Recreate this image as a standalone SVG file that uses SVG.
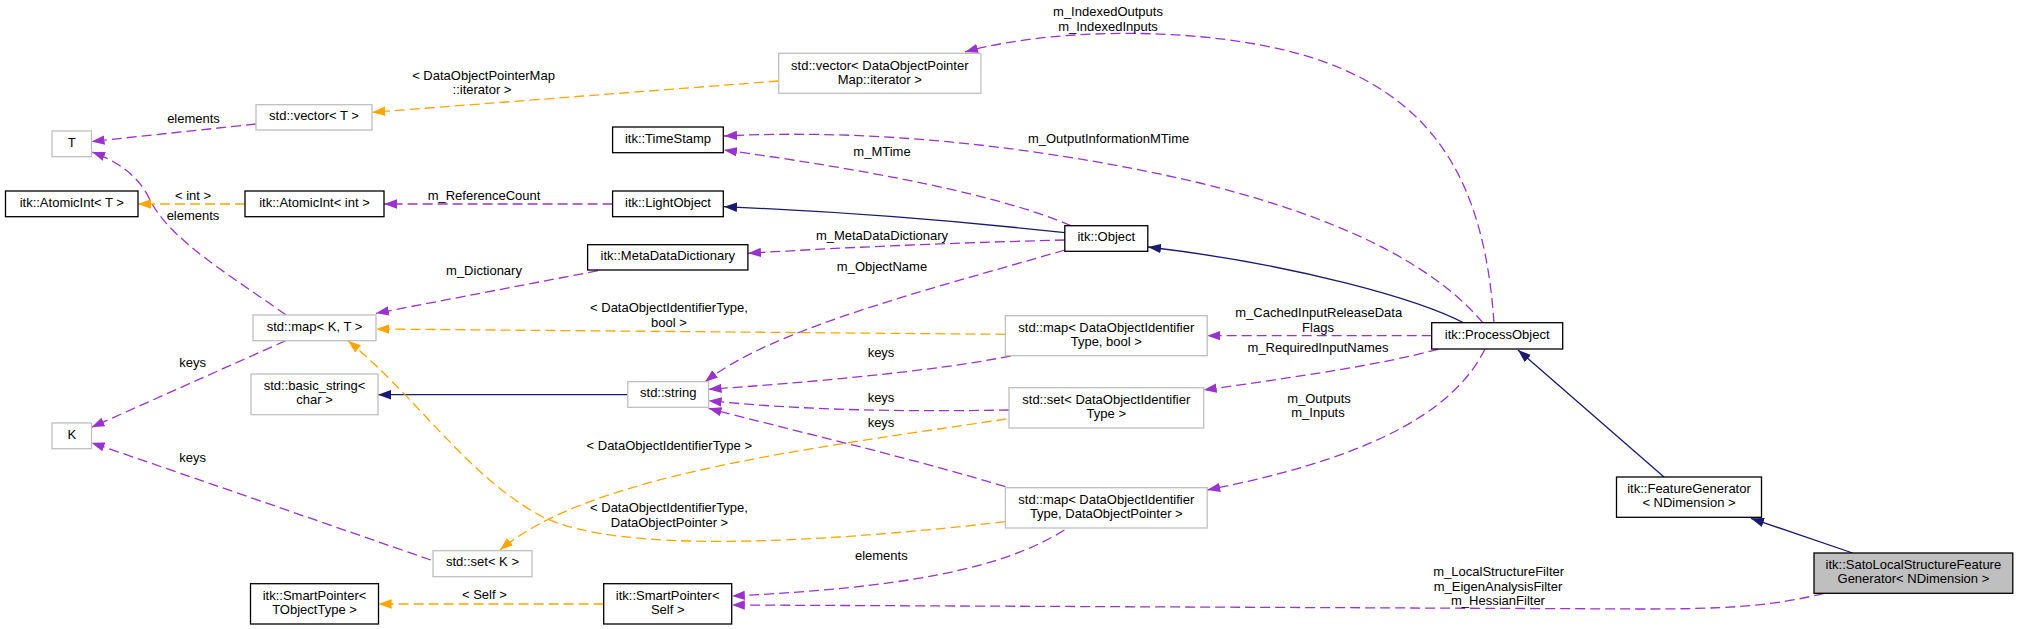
<svg xmlns="http://www.w3.org/2000/svg" width="2019" height="629" viewBox="0 0 2019 629">
<style>
text{font-family:"Liberation Sans",Arial,sans-serif;font-size:13px;fill:#000;text-anchor:middle}
.n rect{fill:#fff;stroke:#000;stroke-width:1.3}
.g rect{stroke:#bfbfbf}
.cur rect{fill:#bfbfbf;stroke:#000}
.e path{fill:none;stroke-width:1.3}
.u{stroke:#9a32cd;stroke-dasharray:10,5;marker-end:url(#ap)}
.t{stroke:#ffa500;stroke-dasharray:10,5;marker-end:url(#ao)}
.i{stroke:#191970;marker-end:url(#an)}
</style>
<defs>
<marker id="ap" markerUnits="userSpaceOnUse" viewBox="0 0 13 10" markerWidth="13" markerHeight="10" refX="13" refY="5" orient="auto"><path d="M0,0.3L13,5L0,9.7z" fill="#9a32cd"/></marker>
<marker id="ao" markerUnits="userSpaceOnUse" viewBox="0 0 13 10" markerWidth="13" markerHeight="10" refX="13" refY="5" orient="auto"><path d="M0,0.3L13,5L0,9.7z" fill="#ffa500"/></marker>
<marker id="an" markerUnits="userSpaceOnUse" viewBox="0 0 13 10" markerWidth="13" markerHeight="10" refX="13" refY="5" orient="auto"><path d="M0,0.3L13,5L0,9.7z" fill="#191970"/></marker>
</defs>
<rect width="2019" height="629" fill="#fff"/>
<g id="edges" class="e">
<path class="u" d="M256,124 L91.5,141.5"/>
<path class="u" d="M286,315 C230,275 170,240 150,200 C140,178 120,162 92,152"/>
<path class="t" d="M245,204 L138,204"/>
<path class="u" d="M612.6,204 L384,204"/>
<path class="t" d="M778.7,81 L372.3,112.3"/>
<path class="u" d="M1494,323 C1485,190 1440,110 1340,68 C1240,25 1060,25 965,52"/>
<path class="u" d="M1483,323 C1430,260 1330,215 1200,183 C1050,148 880,128 724,136"/>
<path class="u" d="M1071,225.7 C1000,195 870,170 724,150"/>
<path class="i" d="M1065,232.7 C950,220 850,212 724,206.7"/>
<path class="u" d="M1065,240 C950,243 850,247 748,253.3"/>
<path class="u" d="M598,270.7 L376,313.3"/>
<path class="u" d="M1065,250 C920,292 770,330 705,382"/>
<path class="i" d="M1464,323 C1420,300 1300,265 1148,247"/>
<path class="t" d="M1005.4,334.3 L376,329"/>
<path class="u" d="M1010.8,356 C930,372 800,383 708.6,389.3"/>
<path class="u" d="M1009,410 C900,412 800,410 708.6,400.7"/>
<path class="u" d="M1005.4,486.7 C900,455 790,430 708.6,408.3"/>
<path class="i" d="M627.8,394.7 L378,394.7"/>
<path class="u" d="M285.7,340.7 L91.5,427.3"/>
<path class="u" d="M430.8,560 C330,525 200,480 91.5,442.7"/>
<path class="t" d="M1006.3,419 C800,450 590,475 500,550"/>
<path class="t" d="M1005.4,521.7 C800,545 620,552 545,518 C470,480 420,400 348,340.7"/>
<path class="u" d="M1064.4,530 C1000,570 900,588 731.8,596"/>
<path class="t" d="M603.6,604 L378.6,604"/>
<path class="u" d="M1431.7,335.7 L1207.2,335.7"/>
<path class="u" d="M1437.9,349.3 C1380,365 1290,378 1203.7,390"/>
<path class="u" d="M1485,349 C1450,420 1350,462 1207.2,490"/>
<path class="i" d="M1664,477 L1518,350"/>
<path class="i" d="M1852.6,553 L1751,518.3"/>
<path class="u" d="M1824,593.3 C1770,607 1720,609 1640,609 L731.8,605"/>
<text x="193.5" y="123">elements</text>
<text x="483.5" y="80">&lt; DataObjectPointerMap</text>
<text x="482" y="94">::iterator &gt;</text>
<text x="193" y="200">&lt; int &gt;</text>
<text x="193" y="220">elements</text>
<text x="484" y="200">m_ReferenceCount</text>
<text x="484" y="275">m_Dictionary</text>
<text x="192.6" y="366.7">keys</text>
<text x="192.6" y="461.7">keys</text>
<text x="484.4" y="599">&lt; Self &gt;</text>
<text x="1108" y="16">m_IndexedOutputs</text>
<text x="1108" y="30.7">m_IndexedInputs</text>
<text x="1108.6" y="142.7">m_OutputInformationMTime</text>
<text x="882" y="155.7">m_MTime</text>
<text x="882" y="240">m_MetaDataDictionary</text>
<text x="882" y="270.7">m_ObjectName</text>
<text x="669" y="311.7">&lt; DataObjectIdentifierType,</text>
<text x="669" y="326.7">bool &gt;</text>
<text x="881" y="356.7">keys</text>
<text x="881" y="402.3">keys</text>
<text x="881" y="426.7">keys</text>
<text x="669.3" y="450">&lt; DataObjectIdentifierType &gt;</text>
<text x="669" y="511.7">&lt; DataObjectIdentifierType,</text>
<text x="669.5" y="526.7">DataObjectPointer &gt;</text>
<text x="881.3" y="560">elements</text>
<text x="1318.7" y="316.7">m_CachedInputReleaseData</text>
<text x="1318" y="331.7">Flags</text>
<text x="1318" y="351.7">m_RequiredInputNames</text>
<text x="1319" y="402.7">m_Outputs</text>
<text x="1318" y="416.7">m_Inputs</text>
<text x="1498.7" y="576">m_LocalStructureFilter</text>
<text x="1498" y="590.7">m_EigenAnalysisFilter</text>
<text x="1498" y="605">m_HessianFilter</text>
</g>
<g id="n_T" class="n g"><rect x="52" y="131" width="39.5" height="25.7"/><text x="71.8" y="146.7">T</text></g>
<g id="n_K" class="n g"><rect x="52" y="423" width="39.5" height="25.7"/><text x="71.8" y="438.7">K</text></g>
<g id="n_AtomicIntT" class="n"><rect x="5.5" y="191" width="132.5" height="25.7"/><text x="71.8" y="206.7">itk::AtomicInt&lt; T &gt;</text></g>
<g id="n_vectorT" class="n g"><rect x="256" y="104.7" width="116" height="25.3"/><text x="314" y="120.3">std::vector&lt; T &gt;</text></g>
<g id="n_AtomicIntInt" class="n"><rect x="245" y="191" width="139" height="25.7"/><text x="314.5" y="206.7">itk::AtomicInt&lt; int &gt;</text></g>
<g id="n_mapKT" class="n g"><rect x="253" y="315" width="123" height="25.7"/><text x="314.5" y="330.7">std::map&lt; K, T &gt;</text></g>
<g id="n_basic_string" class="n g"><rect x="251" y="374" width="127" height="40.7"/><text x="314.5" y="390.3">std::basic_string&lt;</text><text x="314.5" y="404.3">char &gt;</text></g>
<g id="n_setK" class="n g"><rect x="433" y="550.7" width="99" height="26"/><text x="482.5" y="566.4">std::set&lt; K &gt;</text></g>
<g id="n_SPT" class="n"><rect x="250.5" y="583.7" width="128" height="40.3"/><text x="314.5" y="600">itk::SmartPointer&lt;</text><text x="314.5" y="614">TObjectType &gt;</text></g>
<g id="n_vectorDOPM" class="n g"><rect x="778.7" y="53.3" width="202.2" height="40"/><text x="879.8" y="69.6">std::vector&lt; DataObjectPointer</text><text x="879.8" y="83.6">Map::iterator &gt;</text></g>
<g id="n_TimeStamp" class="n"><rect x="612.6" y="127" width="110.7" height="25.7"/><text x="668" y="142.7">itk::TimeStamp</text></g>
<g id="n_LightObject" class="n"><rect x="612.6" y="191" width="110.7" height="25.7"/><text x="668" y="206.7">itk::LightObject</text></g>
<g id="n_MetaDataDictionary" class="n"><rect x="587.6" y="244.7" width="160.3" height="25.3"/><text x="667.8" y="260.3">itk::MetaDataDictionary</text></g>
<g id="n_string" class="n g"><rect x="627.8" y="381.7" width="80.8" height="25.6"/><text x="668.2" y="397.4">std::string</text></g>
<g id="n_SPSelf" class="n"><rect x="603.7" y="583.7" width="128" height="40.3"/><text x="667.7" y="600">itk::SmartPointer&lt;</text><text x="667.7" y="614">Self &gt;</text></g>
<g id="n_Object" class="n"><rect x="1064.8" y="225.7" width="83" height="25.6"/><text x="1106.3" y="241.4">itk::Object</text></g>
<g id="n_mapDOIbool" class="n g"><rect x="1005.4" y="315.7" width="201.8" height="40"/><text x="1106.3" y="332">std::map&lt; DataObjectIdentifier</text><text x="1106.3" y="346">Type, bool &gt;</text></g>
<g id="n_setDOI" class="n g"><rect x="1009" y="387.7" width="194.7" height="40.3"/><text x="1106.3" y="404">std::set&lt; DataObjectIdentifier</text><text x="1106.3" y="418">Type &gt;</text></g>
<g id="n_mapDOIDOP" class="n g"><rect x="1005.4" y="487.7" width="201.8" height="40.3"/><text x="1106.3" y="504">std::map&lt; DataObjectIdentifier</text><text x="1106.3" y="518">Type, DataObjectPointer &gt;</text></g>
<g id="n_ProcessObject" class="n"><rect x="1431.7" y="322.7" width="131" height="26.3"/><text x="1497.2" y="338.7">itk::ProcessObject</text></g>
<g id="n_FeatureGenerator" class="n"><rect x="1616.5" y="477" width="145" height="40.3"/><text x="1689" y="493.3">itk::FeatureGenerator</text><text x="1689" y="507.3">&lt; NDimension &gt;</text></g>
<g id="n_Sato" class="n cur"><rect x="1814" y="553" width="198.8" height="40.3"/><text x="1913.4" y="569.3">itk::SatoLocalStructureFeature</text><text x="1913.4" y="583.3">Generator&lt; NDimension &gt;</text></g>
</svg>
